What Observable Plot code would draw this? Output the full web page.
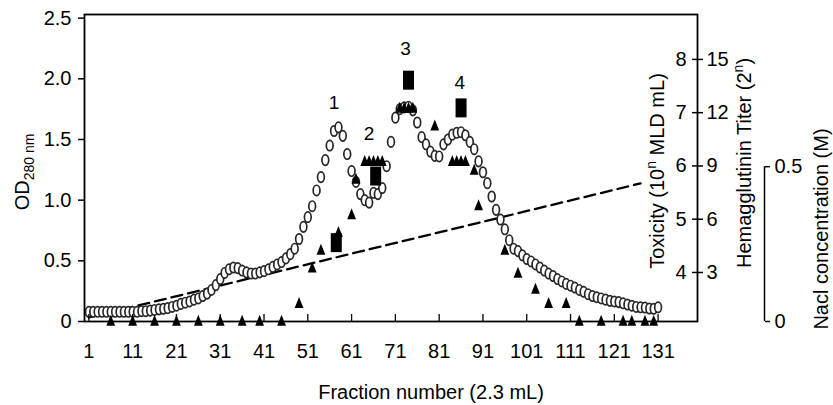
<!DOCTYPE html>
<html>
<head>
<meta charset="utf-8">
<script src="https://cdn.jsdelivr.net/npm/d3@7"></script>
<script src="https://cdn.jsdelivr.net/npm/@observablehq/plot@0.6"></script>
<style>
  html, body { margin: 0; padding: 0; background: #fff; }
  #chart svg { display: block; }
</style>
</head>
<body>
<div id="chart"></div>
<script>
// ---------- data ----------
const odFractions = d3.range(1, 132); // fraction numbers 1..131
const od280 = [
  0.08, 0.08, 0.08, 0.08, 0.08, 0.08, 0.08, 0.08, 0.08, 0.08,
  0.08, 0.08, 0.085, 0.085, 0.09, 0.095, 0.10, 0.105, 0.11, 0.12,
  0.13, 0.145, 0.155, 0.165, 0.18, 0.19, 0.21, 0.23, 0.26, 0.30,
  0.35, 0.40, 0.43, 0.445, 0.44, 0.42, 0.405, 0.395, 0.395, 0.405,
  0.415, 0.43, 0.45, 0.47, 0.49, 0.52, 0.555, 0.60, 0.68, 0.78,
  0.86, 0.95, 1.08, 1.19, 1.33, 1.45, 1.57, 1.60, 1.53, 1.38,
  1.24, 1.15, 1.05, 1.00, 0.98, 1.06, 1.05, 1.10, 1.28, 1.48,
  1.68, 1.75, 1.765, 1.77, 1.74, 1.64, 1.52, 1.46, 1.40, 1.365,
  1.36, 1.46, 1.50, 1.54, 1.555, 1.56, 1.535, 1.48, 1.42, 1.32,
  1.23, 1.14, 1.03, 0.92, 0.84, 0.76, 0.67, 0.60, 0.58, 0.545,
  0.515, 0.495, 0.47, 0.445, 0.42, 0.395, 0.375, 0.35, 0.33, 0.31,
  0.295, 0.28, 0.26, 0.245, 0.225, 0.21, 0.20, 0.19, 0.18, 0.17,
  0.165, 0.16, 0.15, 0.14, 0.13, 0.12, 0.117, 0.115, 0.107, 0.105,
  0.117
];
// Hemagglutinin titer (2^n), filled triangles
const haFractions = [6, 11, 16, 21, 26, 31, 36, 40, 45, 49, 52, 54, 58, 61, 62,
  64, 65, 66, 67, 68, 72, 73, 74, 75, 80, 84, 85, 86, 87, 89, 90, 96, 99, 103,
  106, 110, 113, 118, 123, 125, 128, 130];
const haTiters = [0, 0, 0, 0, 0, 0, 0, 0, 0, 1, 3, 4, 5, 6, 8,
  9, 9, 9, 9, 9, 12, 12, 12, 12, 11, 9, 9, 9, 9, 8.5, 6.5, 4, 2.7, 1.8,
  1, 1, 0, 0, 0, 0, 0, 0];
// Toxicity (10^n MLD/mL), filled blocks
const toxFractions = [57.5, 66.5, 74, 86];
const toxValues = [4.56, 5.81, 7.61, 7.09];
// NaCl gradient (M), dashed line
const naclFractions = [1, 127];
const naclValues = [0.013, 0.446];
// peak numbers
const peakNames = ["1", "2", "3", "4"];
const peakFractions = [57, 65, 73.3, 85.7];
const peakOD = [1.8, 1.55, 2.25, 1.97];
// ticks
const xDomain = [0, 140];
const xTicks = [1, 11, 21, 31, 41, 51, 61, 71, 81, 91, 101, 111, 121, 131];
const odTicks = [0, 0.5, 1, 1.5, 2, 2.5];
const toxTicks = [4, 5, 6, 7, 8];
const haTicks = [3, 6, 9, 12, 15];
const naclTicks = [0, 0.5];
// titles
const xTitle = "Fraction number (2.3 mL)";
const odTitle = [["OD", ""], ["280 nm", "sub"]];
const toxTitle = [["Toxicity (10", ""], ["n", "sup"], [" MLD mL)", ""]];
const haTitle = [["Hemagglutinin Titer (2", ""], ["n", "sup"], [")", ""]];
const naclTitle = [["Nacl concentration (M)", ""]];

// ---------- secondary axes expressed on the OD scale ----------
const toxToOD = t => 0.404 + (t - 4) * 0.439;
const haToOD = h => -0.035 + h * 0.14633;
const naclToOD = n => n * 2.552;

const odData = odFractions.map((f, i) => ({f, v: od280[i]}));
const haData = haFractions.map((f, i) => ({f, v: haToOD(haTiters[i])}));
const toxData = toxFractions.map((f, i) => ({f, v: toxToOD(toxValues[i])}));
const naclData = naclFractions.map((f, i) => ({f, v: naclToOD(naclValues[i])}));
const peakData = peakNames.map((s, i) => ({s, f: peakFractions[i], v: peakOD[i]}));

const haLabel = new Map(haTicks.map(h => [haToOD(h), String(h)]));
const naclLabel = new Map(naclTicks.map(n => [naclToOD(n), String(n)]));

// ---------- symbols ----------
const ellipseSym = {draw(ctx) {
  const rx = 3.4, ry = 5.2, k = 0.5523;
  ctx.moveTo(rx, 0);
  ctx.bezierCurveTo(rx, k * ry, k * rx, ry, 0, ry);
  ctx.bezierCurveTo(-k * rx, ry, -rx, k * ry, -rx, 0);
  ctx.bezierCurveTo(-rx, -k * ry, -k * rx, -ry, 0, -ry);
  ctx.bezierCurveTo(k * rx, -ry, rx, -k * ry, rx, 0);
  ctx.closePath();
}};
const triSym = {draw(ctx) {
  ctx.moveTo(0, -11); ctx.lineTo(4.4, 0); ctx.lineTo(-4.4, 0); ctx.closePath();
}};
const blockSym = {draw(ctx) { ctx.rect(-5.5, -9.5, 11, 19); }};

const FONT = "'Liberation Sans', Arial, Helvetica, sans-serif";

const chart = Plot.plot({
  width: 833,
  height: 405,
  marginLeft: 84,
  marginRight: 136,
  marginTop: 14,
  marginBottom: 84,
  style: {fontFamily: FONT, fontSize: "20px", color: "black", background: "white", overflow: "visible"},
  x: {domain: xDomain, axis: null},
  y: {domain: [0, 2.53], axis: null},
  marks: [
    Plot.line(naclData, {x: "f", y: "v", stroke: "black", strokeWidth: 2.3, strokeDasharray: "11,6"}),
    Plot.dot(odData, {x: "f", y: "v", symbol: ellipseSym, r: 4, fill: "white", stroke: "#262626", strokeWidth: 1.7}),
    Plot.dot(haData, {x: "f", y: "v", symbol: triSym, r: 4, fill: "black", stroke: "none"}),
    Plot.dot(toxData, {x: "f", y: "v", symbol: blockSym, r: 4, fill: "black", stroke: "none"}),
    Plot.frame({stroke: "black", strokeWidth: 1.8}),
    Plot.axisY(odTicks, {anchor: "left", tickSize: 6, tickPadding: 7, strokeWidth: 1.5,
      tickFormat: d => d === 0 ? "0" : d.toFixed(1), fontSize: 20, label: null}),
    Plot.axisX(xTicks, {anchor: "bottom", tickSize: 0, tickPadding: 22, fontSize: 20, label: null}),
    Plot.tickX(xTicks, {x: d => d, insetTop: 300, stroke: "black", strokeWidth: 1.3}),
    Plot.axisY(haTicks.map(haToOD), {anchor: "right", tickSize: 5, tickPadding: 4, strokeWidth: 1.5,
      tickFormat: d => haLabel.get(d), fontSize: 20, label: null}),
    Plot.tickY(toxTicks, {y: toxToOD, insetLeft: 608, stroke: "black", strokeWidth: 1.5}),
    Plot.text(toxTicks, {y: toxToOD, text: d => String(d), frameAnchor: "right", textAnchor: "end",
      dx: -11, fontSize: 20, fill: "black"}),
    Plot.ruleX([xDomain[1]], {y1: naclToOD(naclTicks[0]), y2: naclToOD(naclTicks[1]), dx: 67,
      stroke: "black", strokeWidth: 1.5}),
    Plot.axisY(naclTicks.map(naclToOD), {anchor: "right", dx: 67, tickSize: 5, tickPadding: 5, strokeWidth: 1.5,
      tickFormat: d => naclLabel.get(d), fontSize: 20, label: null}),
    Plot.text(peakData, {x: "f", y: "v", text: "s", fontSize: 19, fill: "black"})
  ]
});

document.getElementById("chart").append(chart);

// ---------- titles (real text with sub/superscripts) ----------
const svg = d3.select(chart);
function addTitle(parts, x, y, rotate) {
  const t = svg.append("text")
    .attr("transform", `translate(${x},${y})` + (rotate ? ` rotate(${rotate})` : ""))
    .attr("text-anchor", "middle")
    .attr("font-family", FONT)
    .attr("font-size", 20)
    .attr("fill", "black");
  let shift = 0;
  for (const [txt, kind] of parts) {
    const s = t.append("tspan").text(txt);
    let target = 0;
    if (kind === "sub") { s.attr("font-size", 14); target = 5; }
    else if (kind === "sup") { s.attr("font-size", 14); target = -8; }
    if (target !== shift) { s.attr("dy", target - shift); shift = target; }
  }
}
addTitle([[xTitle, ""]], 431, 399, 0);
addTitle(odTitle, 29, 172, -90);
addTitle(toxTitle, 664, 171, -90);
addTitle(haTitle, 751, 163, -90);
addTitle(naclTitle, 828, 229, -90);
</script>
</body>
</html>
